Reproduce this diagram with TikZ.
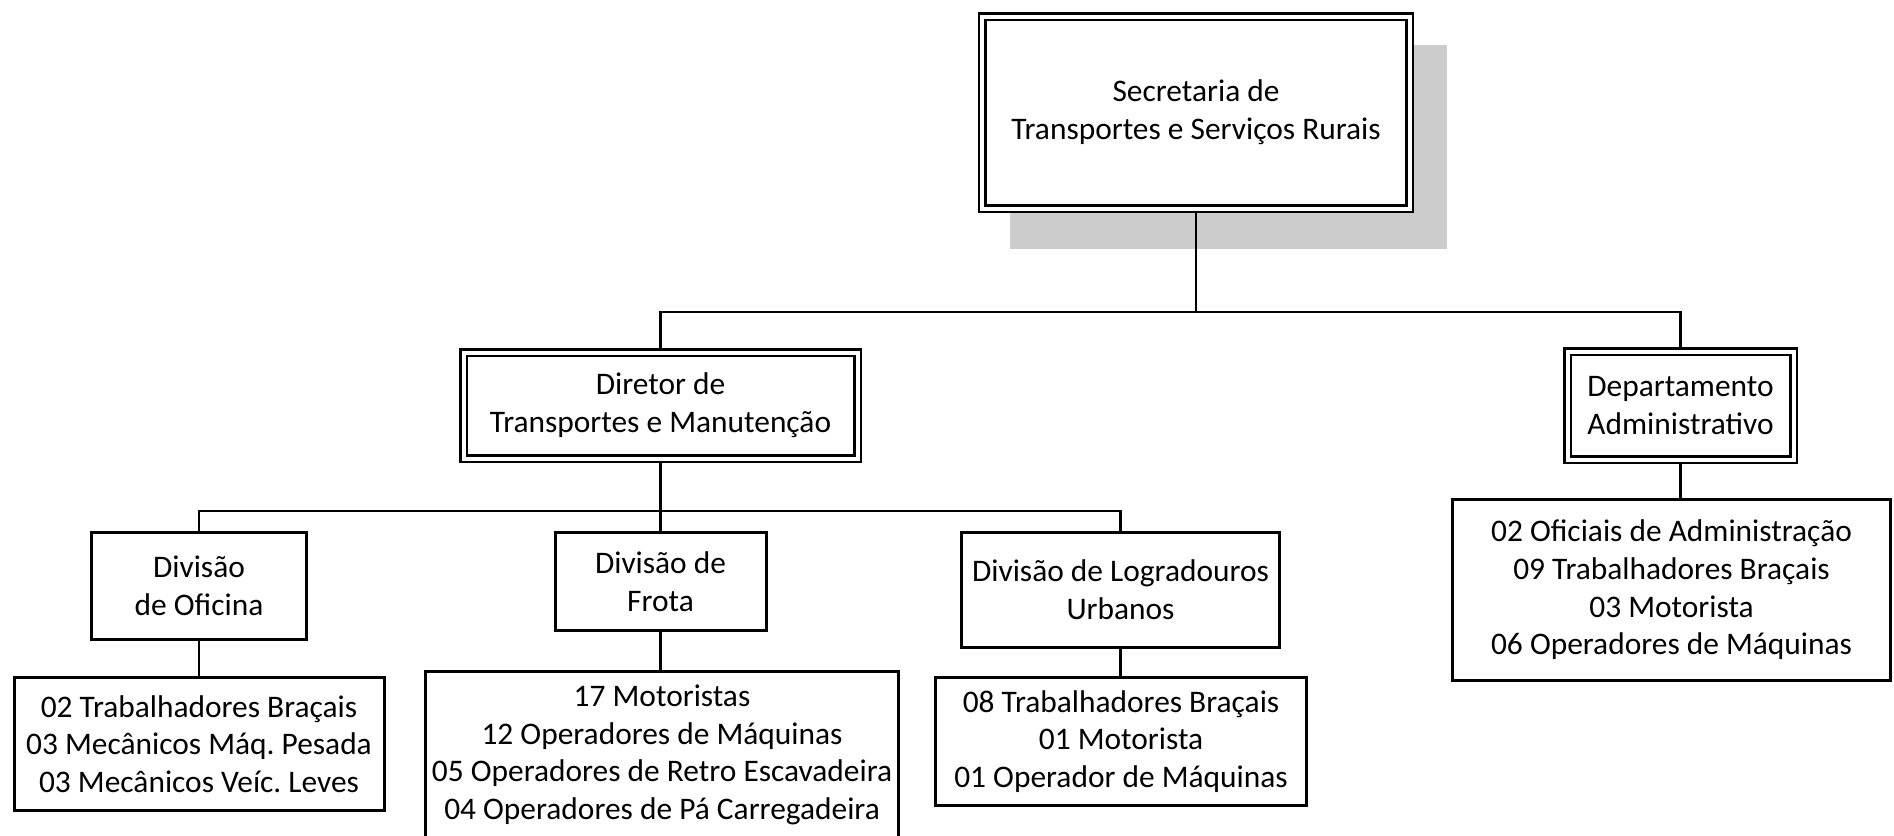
\documentclass[tikz,border=0pt]{standalone}
\usepackage{fontspec}
\setmainfont{Carlito}
\frenchspacing
\usetikzlibrary{backgrounds}

\begin{document}
\begin{tikzpicture}[x=0.5pt,y=-0.5pt,
    font=\fontsize{15.7pt}{18.8pt}\selectfont,
    caixa/.style={draw,line width=1.5pt,align=center,inner sep=0pt},
    caixadupla/.style={draw,double,double distance=2pt,line width=1.2pt,outer sep=2.2pt,align=center,inner sep=0pt},
    ligacao/.style={line width=1.3pt}]
    \useasboundingbox (0,0) rectangle (1894,835);
    \node[caixadupla,fill=white,minimum width=213.6pt,minimum height=96pt]
        (secretaria) at (1196,112.5) {Secretaria de\\Transportes e Serviços Rurais};
    \node[caixadupla,minimum width=197pt,minimum height=53pt] (diretor) at (660.5,405.5) {Diretor de\\Transportes e Manutenção};
    \node[caixadupla,minimum width=113pt,minimum height=54pt] (departamento) at (1680.5,405.5) {Departamento\\Administrativo};
    \node[caixa,minimum width=107.5pt,minimum height=53.5pt] (oficina) at (199,586) {Divisão\\de Oficina};
    \node[caixa,minimum width=105.5pt,minimum height=49pt] (frota) at (660.5,581.5) {Divisão de\\Frota};
    \node[caixa,minimum width=159pt,minimum height=57.5pt] (logradouros) at (1120.5,590) {Divisão de Logradouros\\Urbanos};
    \node[caixa,minimum width=185pt,minimum height=66.5pt] (equipeoficina) at (199,744)
        {02 Trabalhadores Braçais\\03 Mecânicos Máq. Pesada\\03 Mecânicos Veíc. Leves};
    \node[caixa,minimum width=236.5pt,minimum height=83.25pt] (equipefrota) at (662,754.75)
        {17 Motoristas\\12 Operadores de Máquinas\\05 Operadores de Retro Escavadeira\\04 Operadores de Pá Carregadeira};
    \node[caixa,minimum width=185.5pt,minimum height=64pt] (equipelogradouros) at (1121,741.5)
        {08 Trabalhadores Braçais\\01 Motorista\\01 Operador de Máquinas};
    \node[caixa,minimum width=219pt,minimum height=90.5pt] (equipeadm) at (1671.5,590)
        {02 Oficiais de Administração\\09 Trabalhadores Braçais\\03 Motorista\\06 Operadores de Máquinas};
    % sombra da secretaria
    \begin{scope}[on background layer]
        \fill[black!20] ([xshift=16pt,yshift=-16.5pt]secretaria.north west) rectangle ([xshift=16.5pt,yshift=-18pt]secretaria.south east);
    \end{scope}
    % ligacoes
    \coordinate (barra1) at (1196,312);
    \coordinate (barra2) at (660.5,511);
    \draw[ligacao] (secretaria.south) -- (barra1);
    \draw[ligacao] (diretor.north) |- (barra1) -| (departamento.north);
    \draw[ligacao] (diretor.south) -- (frota.north);
    \draw[ligacao] (oficina.north) |- (barra2) -| (logradouros.north);
    \draw[ligacao] (oficina.south) -- (equipeoficina.north);
    \draw[ligacao] (frota.south) -- (frota.south |- equipefrota.north);
    \draw[ligacao] (logradouros.south) -- (logradouros.south |- equipelogradouros.north);
    \draw[ligacao] (departamento.south) -- (departamento.south |- equipeadm.north);
\end{tikzpicture}
\end{document}
